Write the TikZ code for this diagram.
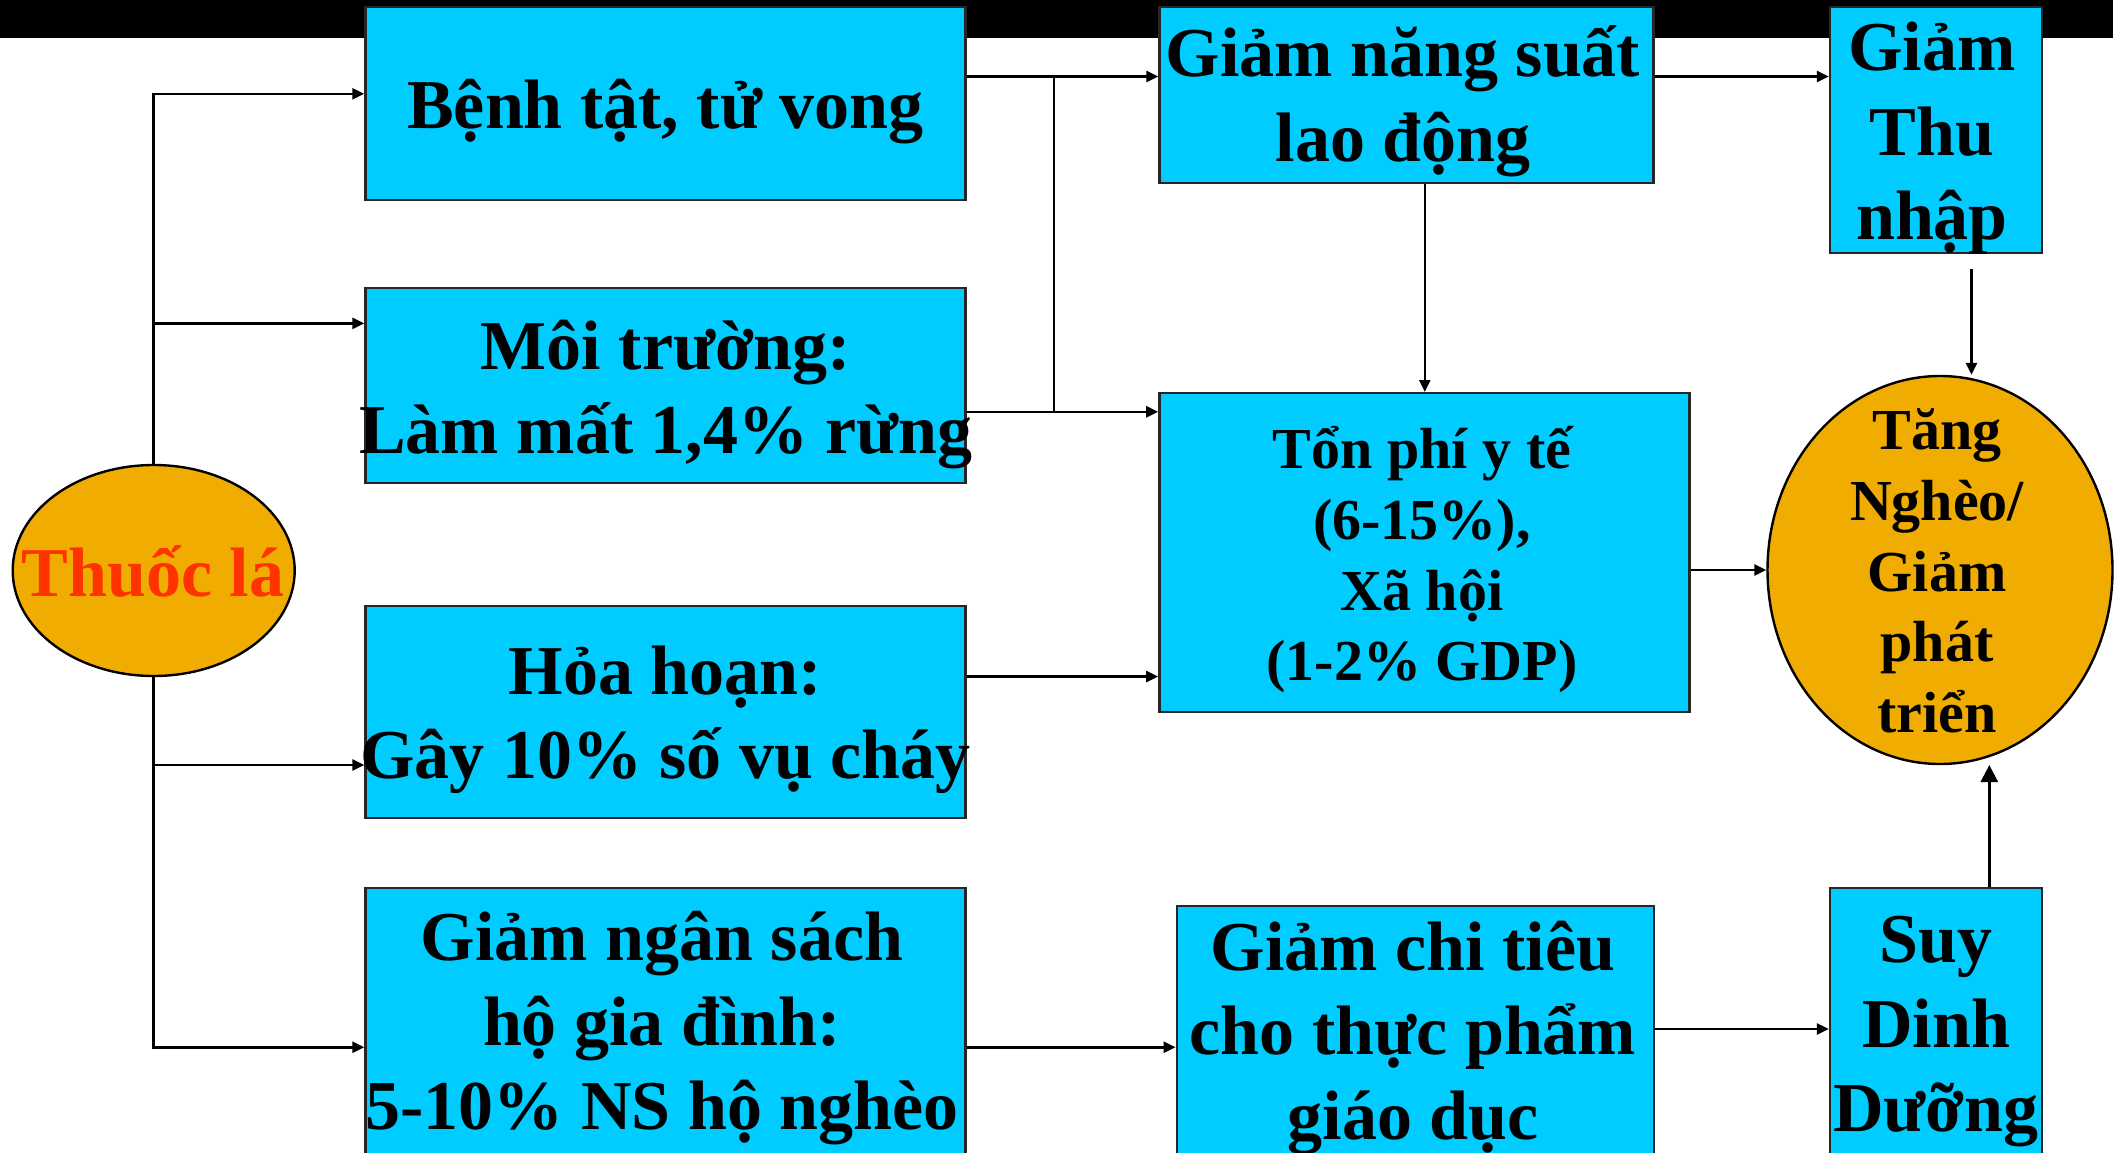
\documentclass[tikz,border=0pt]{standalone}
\usepackage{fontspec}
\setmainfont{Liberation Serif}
\usetikzlibrary{arrows.meta,shapes.geometric}
\definecolor{boxcyan}{RGB}{0,204,255}
\definecolor{bulbgold}{RGB}{240,172,0}
\definecolor{tobaccored}{RGB}{255,51,0}
% centred lines on a fixed baseline grid; the box's baseline is the first line's
\newcommand\stacklines[1]{\vtop{\lineskiplimit=-\maxdimen\lineskip=0pt\halign{\hfil##\hfil\cr#1\crcr}}}
\newcommand\bigtype{\fontsize{70}{84.5}\selectfont\bfseries}
\newcommand\smalltype{\fontsize{58}{70.7}\selectfont\bfseries}

\begin{document}
\begin{tikzpicture}[x=1pt,y=-1pt,
  panel/.style={rectangle,draw=black!85,line width=2.4pt,fill=boxcyan,inner sep=0pt},
  bubble/.style={ellipse,draw=black,line width=2.4pt,fill=bulbgold,inner sep=0pt},
  bigcap/.style={anchor=base,inner sep=0pt,font=\bigtype},
  smallcap/.style={anchor=base,inner sep=0pt,font=\smalltype},
  wire/.style={line width=2.6pt},
  link/.style={wire,-{Triangle[length=12pt,width=11pt]}},
  biglink/.style={wire,-{Triangle[length=17pt,width=17pt]}},
]
\useasboundingbox (0,0) rectangle (2125,1152);
\clip (0,0) rectangle (2125,1152);

% title strip
\fill[black] (0,0) rectangle (2112.7,38.3);

% boxes
\node[panel,minimum width=600pt,minimum height=193pt] (bt)  at (665.5,103.5) {};
\node[panel,minimum width=600pt,minimum height=195pt] (mt)  at (665.5,385.5) {};
\node[panel,minimum width=600pt,minimum height=212pt] (hh)  at (665.5,712) {};
\node[panel,minimum width=600pt,minimum height=312pt] (ns)  at (665.5,1044) {};
\node[panel,minimum width=494pt,minimum height=176pt] (gns) at (1406.5,95) {};
\node[panel,minimum width=530pt,minimum height=319pt] (tp)  at (1424.4,552.7) {};
\node[panel,minimum width=477pt,minimum height=294pt] (gct) at (1415.3,1053) {};
\node[panel,minimum width=212pt,minimum height=246pt] (gtn) at (1936,130) {};
\node[panel,minimum width=212pt,minimum height=312pt] (sdd) at (1936,1044) {};

% ellipses
\node[bubble,minimum width=282pt,minimum height=211pt] (tl) at (153.7,570.5) {};
\node[bubble,minimum width=345pt,minimum height=388pt] (tn) at (1940,570) {};

% texts
\node[bigcap] (bt-t)  at (665.5,128)  {\stacklines{Bệnh tật, tử vong}};
\node[bigcap] (mt-t)  at (666,369)    {\stacklines{Môi trường:\cr Làm mất 1,4\% rừng}};
\node[bigcap] (hh-t)  at (665.5,694)  {\stacklines{Hỏa hoạn:\cr Gây 10\% số vụ cháy}};
\node[bigcap] (ns-t)  at (662,960.8)  {\stacklines{Giảm ngân sách\cr hộ gia đình:\cr 5-10\% NS hộ nghèo}};
\node[bigcap] (gns-t) at (1403,76.5)  {\stacklines{Giảm năng suất\cr lao động}};
\node[bigcap] (gct-t) at (1413,970.4) {\stacklines{Giảm chi tiêu\cr cho thực phẩm\cr giáo dục}};
\node[bigcap] (gtn-t) at (1932,70.8)  {\stacklines{Giảm\cr Thu\cr nhập}};
\node[bigcap] (sdd-t) at (1936,962.7) {\stacklines{Suy\cr Dinh\cr Dưỡng}};
\node[bigcap,text=tobaccored] (tl-t) at (153,596) {Thuốc lá};
\node[smallcap] (tp-t) at (1422,468.8) {\stacklines{Tổn phí y tế\cr (6-15\%),\cr Xã hội\cr (1-2\% GDP)}};
\node[smallcap] (tn-t) at (1937,449.7) {\stacklines{Tăng\cr Nghèo/\cr Giảm\cr phát\cr triển}};

% rows and columns of the connectors
\coordinate (yA) at (0,93.8);
\coordinate (yB) at (0,323.4);
\coordinate (yC) at (0,765);
\coordinate (yD) at (0,1047.2);
\coordinate (yE) at (0,76.5);
\coordinate (yF) at (0,411.8);
\coordinate (yG) at (0,676.5);
\coordinate (yH) at (0,1029);
\coordinate (xJ) at (1054,0);
\coordinate (xK) at (1424.8,0);
\coordinate (gtnOut) at (1971.5,269);
\coordinate (tnBase) at (1989.3,765);

% from the tobacco ellipse to the four effects
\draw[link] (tl.north) |- (bt.west |- yA);
\draw[link] (tl.north |- yB) -- (mt.west |- yB);
\draw[link] (tl.south) |- (ns.west |- yD);
\draw[link] (tl.south |- yC) -- (hh.west |- yC);

% middle column
\draw[link] (bt.east |- yE) -- (gns.west |- yE);
\draw[wire] (xJ |- yE) -- (xJ |- yF);
\draw[link] (mt.east |- yF) -- (tp.west |- yF);
\draw[link] (hh.east |- yG) -- (tp.west |- yG);
\draw[link] (gns.south -| xK) -- (tp.north -| xK);
\draw[link] (ns.east |- yD) -- (gct.west |- yD);

% right column
\draw[link] (gns.east |- yE) -- (gtn.west |- yE);
\draw[link] (gtnOut) -- (tn.north -| gtnOut);
\draw[link] (tp.east |- tn.west) -- (tn.west);
\draw[link] (gct.east |- yH) -- (sdd.west |- yH);
\draw[biglink] (sdd.north -| tnBase) -- (tnBase);
\end{tikzpicture}
\end{document}
